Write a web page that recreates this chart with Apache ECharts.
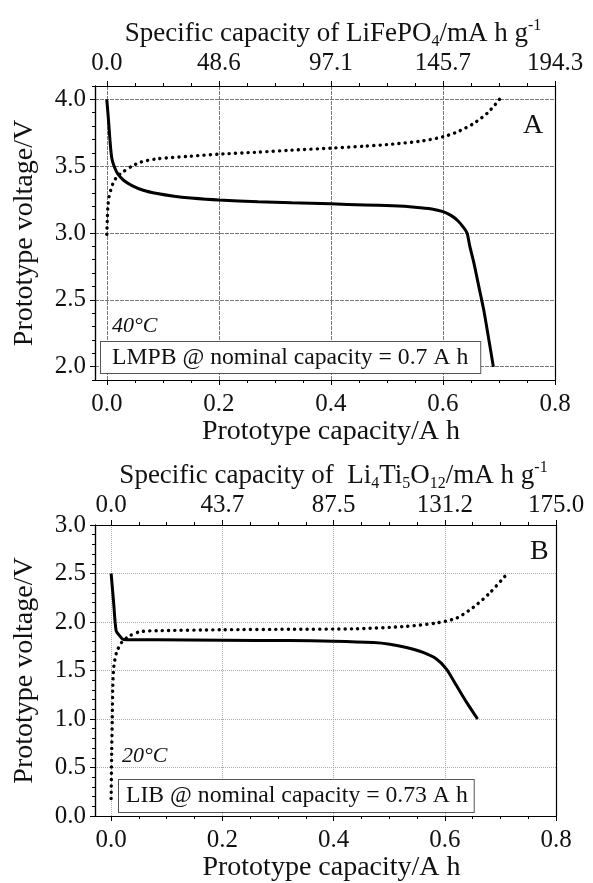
<!DOCTYPE html>
<html>
<head>
<meta charset="utf-8">
<script src="https://cdn.jsdelivr.net/npm/echarts@6/dist/echarts.min.js"></script>
<style>
html,body{margin:0;padding:0;background:#fff;}
#chart{width:593px;height:883px;}
</style>
</head>
<body>
<div id="chart"></div>
<script>
// ---------- data ----------
// Panel A (LMPB, 40°C): prototype capacity (A h) vs voltage (V)
const dischargeA = [[0,4.0],[0.003,3.85],[0.006,3.68],[0.009,3.56],[0.014,3.49],[0.02,3.44],[0.03,3.395],[0.045,3.355],[0.065,3.32],[0.09,3.295],[0.12,3.275],[0.15,3.262],[0.2,3.247],[0.27,3.234],[0.33,3.226],[0.4,3.218],[0.46,3.21],[0.51,3.203],[0.55,3.193],[0.58,3.18],[0.6,3.16],[0.615,3.13],[0.627,3.09],[0.637,3.04],[0.643,3.0],[0.648,2.9],[0.655,2.78],[0.665,2.58],[0.673,2.42],[0.682,2.2],[0.69,2.0]];
const chargeA = [[0,2.99],[0.001,3.1],[0.002,3.2],[0.004,3.27],[0.007,3.32],[0.011,3.37],[0.018,3.42],[0.03,3.46],[0.045,3.5],[0.06,3.53],[0.09,3.555],[0.15,3.575],[0.2,3.59],[0.27,3.605],[0.33,3.62],[0.4,3.635],[0.46,3.65],[0.51,3.665],[0.565,3.69],[0.6,3.72],[0.625,3.755],[0.655,3.82],[0.68,3.9],[0.701,4.0]];
// Panel B (LIB, 20°C)
const dischargeB = [[0,2.5],[0.0045,2.2],[0.009,1.91],[0.015,1.86],[0.022,1.82],[0.082,1.816],[0.2,1.812],[0.32,1.808],[0.4,1.802],[0.472,1.788],[0.501,1.771],[0.531,1.737],[0.561,1.686],[0.585,1.618],[0.603,1.515],[0.621,1.345],[0.639,1.174],[0.659,1.0]];
const chargeB = [[0,0.18],[0.001,0.66],[0.002,1.0],[0.003,1.34],[0.005,1.55],[0.01,1.69],[0.019,1.79],[0.034,1.86],[0.052,1.9],[0.082,1.91],[0.2,1.92],[0.32,1.925],[0.44,1.93],[0.531,1.955],[0.585,1.99],[0.621,2.04],[0.651,2.15],[0.681,2.3],[0.711,2.49]];

// tick values / labels
const xMajor = [0, 0.2, 0.4, 0.6, 0.8];
const xMinor = [0.05,0.1,0.15,0.25,0.3,0.35,0.45,0.5,0.55,0.65,0.7,0.75];
const topLabelsA = ['0.0','48.6','97.1','145.7','194.3'];
const topLabelsB = ['0.0','43.7','87.5','131.2','175.0'];
const yMajorA = [2.0, 2.5, 3.0, 3.5, 4.0];
const yMinorA = [1.9,2.1,2.2,2.3,2.4,2.6,2.7,2.8,2.9,3.1,3.2,3.3,3.4,3.6,3.7,3.8,3.9,4.1];
const yMajorB = [0.0, 0.5, 1.0, 1.5, 2.0, 2.5, 3.0];
const yMinorB = [0.1,0.2,0.3,0.4,0.6,0.7,0.8,0.9,1.1,1.2,1.3,1.4,1.6,1.7,1.8,1.9,2.1,2.2,2.3,2.4,2.6,2.7,2.8,2.9];

// ---------- chart ----------
const FONT = 'Liberation Serif';
const INK = '#111';
const chart = echarts.init(document.getElementById('chart'), null, {renderer:'canvas'});

const lbl = {fontFamily: FONT, fontSize: 25, color: INK};
const axLine = {show: true, onZero: false, lineStyle: {color: '#000', width: 1.2}};

function xAxes(grid, min, topLabels, topName, gridStyle, topMargin) {
  const base = {type:'value', gridIndex: grid, min: min, max: 0.8, axisLine: axLine};
  return [
    Object.assign({}, base, {
      position:'bottom',
      axisTick:{show:true, inside:false, length:5, customValues:xMajor, lineStyle:{color:'#000'}},
      axisLabel:Object.assign({customValues:xMajor, margin:12, formatter:v=>v.toFixed(1)}, lbl),
      splitLine:{show:true, lineStyle:gridStyle},
      name:'Prototype capacity/A h', nameLocation:'middle', nameGap:38,
      nameTextStyle:{fontFamily:FONT, fontSize:28, color:INK, padding:[0,0,0,12]}
    }),
    Object.assign({}, base, {
      position:'bottom',
      axisTick:{show:true, inside:false, length:3, customValues:xMinor, lineStyle:{color:'#000'}},
      axisLabel:{show:false}, splitLine:{show:false}
    }),
    Object.assign({}, base, {
      position:'top',
      axisTick:{show:true, inside:false, length:5, customValues:xMajor, lineStyle:{color:'#000'}},
      axisLabel:Object.assign({customValues:xMajor, margin:topMargin,
        formatter:v=>{const i = xMajor.findIndex(t=>Math.abs(t-v)<1e-6); return i>=0 ? topLabels[i] : '';}}, lbl),
      splitLine:{show:false},
      name:topName, nameLocation:'middle', nameGap:topMargin+19,
      nameTextStyle:{fontFamily:FONT, fontSize:27, color:INK, padding:[0,0,0,16],
        rich:{
          sub:{fontFamily:FONT, fontSize:16, color:INK, padding:[16,0,0,0]},
          sup:{fontFamily:FONT, fontSize:16, color:INK, padding:[0,0,16,0]}
        }}
    }),
    Object.assign({}, base, {
      position:'top',
      axisTick:{show:true, inside:false, length:3, customValues:xMinor, lineStyle:{color:'#000'}},
      axisLabel:{show:false}, splitLine:{show:false}
    })
  ];
}

function yAxes(grid, min, max, major, minor, gridStyle) {
  const base = {type:'value', gridIndex: grid, min: min, max: max, axisLine: axLine};
  return [
    Object.assign({}, base, {
      position:'left',
      axisTick:{show:true, inside:false, length:5, customValues:major, lineStyle:{color:'#000'}},
      axisLabel:Object.assign({customValues:major, margin:9, formatter:v=>v.toFixed(1)}, lbl),
      splitLine:{show:true, lineStyle:gridStyle},
      name:'Prototype voltage/V', nameLocation:'middle', nameGap:56, nameRotate:90,
      nameTextStyle:{fontFamily:FONT, fontSize:28, color:INK}
    }),
    Object.assign({}, base, {
      position:'left',
      axisTick:{show:true, inside:false, length:3, customValues:minor, lineStyle:{color:'#000'}},
      axisLabel:{show:false}, splitLine:{show:false}
    }),
    Object.assign({}, base, {
      position:'right',
      axisTick:{show:false}, axisLabel:{show:false}, splitLine:{show:false}
    })
  ];
}

const gridA = {color:'#7a7a7a', width:1, type:[4,1]};
const gridB = {color:'#aaaaaa', width:1, type:[1,1]};

const solid = {color:'#000', width:3};
const dots = {color:'#000', width:3.4, type:[0.1,6.2], cap:'round'};

function ser(data, xi, yi, style) {
  return {type:'line', data:data, xAxisIndex:xi, yAxisIndex:yi, showSymbol:false, symbol:'none',
    smooth:0.25, lineStyle:style, z:5, animation:false, silent:true};
}

const boxFont = '23.7px "Liberation Serif"';
const option = {
  animation:false,
  backgroundColor:'#fff',
  grid:[
    {left:95, top:86, width:460, height:294, containLabel:false},
    {left:95, top:525, width:461, height:293, containLabel:false}
  ],
  xAxis: [].concat(
    xAxes(0, -0.021, topLabelsA, 'Specific capacity of LiFePO{sub|4}/mA h g{sup|-1}', gridA, 10),
    xAxes(1, -0.029, topLabelsB, 'Specific capacity of  Li{sub|4}Ti{sub|5}O{sub|12}/mA h g{sup|-1}', gridB, 7)
  ),
  yAxis: [].concat(
    yAxes(0, 1.9, 4.1, yMajorA, yMinorA, gridA),
    yAxes(1, 0, 3.0, yMajorB, yMinorB, gridB)
  ),
  series:[
    ser(chargeA, 0, 0, dots),
    ser(dischargeA, 0, 0, solid),
    ser(chargeB, 4, 3, dots),
    ser(dischargeB, 4, 3, solid)
  ],
  graphic:[
    {type:'text', left:523, top:112, z:10, style:{text:'A', font:'28px "Liberation Serif"', fill:INK}},
    {type:'text', left:112, top:315, z:10, style:{text:'40°C', font:'italic 22px "Liberation Serif"', fill:INK}},
    {type:'text', left:100, top:341, z:10, style:{text:'LMPB @ nominal capacity = 0.7 A h', font:boxFont, fill:INK,
      backgroundColor:'#fff', borderColor:'#555', borderWidth:1, padding:[4,12,3,11]}},
    {type:'text', left:530, top:538, z:10, style:{text:'B', font:'28px "Liberation Serif"', fill:INK}},
    {type:'text', left:122, top:745, z:10, style:{text:'20°C', font:'italic 22px "Liberation Serif"', fill:INK}},
    {type:'text', left:118, top:779, z:10, style:{text:'LIB @ nominal capacity = 0.73 A h', font:boxFont, fill:INK,
      backgroundColor:'#fff', borderColor:'#555', borderWidth:1, padding:[4,6,4,7]}}
  ]
};
chart.setOption(option);
</script>
</body>
</html>
